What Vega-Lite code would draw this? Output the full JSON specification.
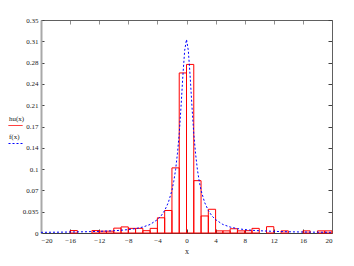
{
  "$schema": "https://vega.github.io/schema/vega-lite/v6.json",
  "width": 291,
  "height": 213,
  "autosize": "none",
  "padding": {"left": 41, "top": 20, "right": 22, "bottom": 33},
  "background": "white",
  "config": {
    "view": {"stroke": null},
    "font": "Liberation Serif",
    "axis": {"grid": false, "labelFont": "Liberation Serif", "labelFontSize": 7, "labelColor": "#202020", "titleFont": "Liberation Serif", "titleFontSize": 8, "titleFontWeight": "normal", "titleColor": "#202020", "domainColor": "#707070", "tickColor": "#404040", "tickWidth": 1},
    "legend": {"orient": "none", "legendX": -33, "legendY": 91, "title": null, "symbolType": "M-1,1H1", "symbolSize": 196, "symbolStrokeWidth": 1, "labelFont": "Liberation Serif", "labelFontSize": 7, "labelColor": "#202020", "labelOffset": -14, "rowPadding": 1, "padding": 0}
  },
  "datasets": {
    "hist": [
      {"x0": -16, "x1": -15, "h": 0.004, "series": "hu(x)"},
      {"x0": -13, "x1": -12, "h": 0.004, "series": "hu(x)"},
      {"x0": -12, "x1": -11, "h": 0.003, "series": "hu(x)"},
      {"x0": -11, "x1": -10, "h": 0.003, "series": "hu(x)"},
      {"x0": -10, "x1": -9, "h": 0.008, "series": "hu(x)"},
      {"x0": -9, "x1": -8, "h": 0.01, "series": "hu(x)"},
      {"x0": -8, "x1": -7, "h": 0.0076, "series": "hu(x)"},
      {"x0": -7, "x1": -6, "h": 0.0076, "series": "hu(x)"},
      {"x0": -6, "x1": -5, "h": 0.0038, "series": "hu(x)"},
      {"x0": -5, "x1": -4, "h": 0.0076, "series": "hu(x)"},
      {"x0": -4, "x1": -3, "h": 0.025, "series": "hu(x)"},
      {"x0": -3, "x1": -2, "h": 0.037, "series": "hu(x)"},
      {"x0": -2, "x1": -1, "h": 0.107, "series": "hu(x)"},
      {"x0": -1, "x1": 0, "h": 0.263, "series": "hu(x)"},
      {"x0": 0, "x1": 1, "h": 0.277, "series": "hu(x)"},
      {"x0": 1, "x1": 2, "h": 0.086, "series": "hu(x)"},
      {"x0": 2, "x1": 3, "h": 0.028, "series": "hu(x)"},
      {"x0": 3, "x1": 4, "h": 0.039, "series": "hu(x)"},
      {"x0": 4, "x1": 5, "h": 0.0035, "series": "hu(x)"},
      {"x0": 5, "x1": 6, "h": 0.0035, "series": "hu(x)"},
      {"x0": 6, "x1": 7, "h": 0.007, "series": "hu(x)"},
      {"x0": 7, "x1": 8, "h": 0.0035, "series": "hu(x)"},
      {"x0": 8, "x1": 9, "h": 0.0038, "series": "hu(x)"},
      {"x0": 9, "x1": 10, "h": 0.0076, "series": "hu(x)"},
      {"x0": 11, "x1": 12, "h": 0.0104, "series": "hu(x)"},
      {"x0": 13, "x1": 14, "h": 0.0035, "series": "hu(x)"},
      {"x0": 16, "x1": 17, "h": 0.0035, "series": "hu(x)"},
      {"x0": 18, "x1": 19, "h": 0.0035, "series": "hu(x)"},
      {"x0": 19, "x1": 20, "h": 0.0035, "series": "hu(x)"}
    ],
    "curve": [
      {"x": -20, "y": 0.0011, "series": "f(x)"},
      {"x": -18, "y": 0.0013, "series": "f(x)"},
      {"x": -16, "y": 0.0016, "series": "f(x)"},
      {"x": -14, "y": 0.002, "series": "f(x)"},
      {"x": -12, "y": 0.0027, "series": "f(x)"},
      {"x": -10, "y": 0.0037, "series": "f(x)"},
      {"x": -9, "y": 0.0045, "series": "f(x)"},
      {"x": -8, "y": 0.0056, "series": "f(x)"},
      {"x": -7, "y": 0.0072, "series": "f(x)"},
      {"x": -6, "y": 0.0098, "series": "f(x)"},
      {"x": -5, "y": 0.014, "series": "f(x)"},
      {"x": -4, "y": 0.022, "series": "f(x)"},
      {"x": -3.5, "y": 0.028, "series": "f(x)"},
      {"x": -3, "y": 0.037, "series": "f(x)"},
      {"x": -2.5, "y": 0.05, "series": "f(x)"},
      {"x": -2, "y": 0.07, "series": "f(x)"},
      {"x": -1.75, "y": 0.085, "series": "f(x)"},
      {"x": -1.5, "y": 0.104, "series": "f(x)"},
      {"x": -1.25, "y": 0.13, "series": "f(x)"},
      {"x": -1, "y": 0.163, "series": "f(x)"},
      {"x": -0.75, "y": 0.208, "series": "f(x)"},
      {"x": -0.5, "y": 0.258, "series": "f(x)"},
      {"x": -0.25, "y": 0.3, "series": "f(x)"},
      {"x": 0, "y": 0.318, "series": "f(x)"},
      {"x": 0.25, "y": 0.3, "series": "f(x)"},
      {"x": 0.5, "y": 0.258, "series": "f(x)"},
      {"x": 0.75, "y": 0.208, "series": "f(x)"},
      {"x": 1, "y": 0.163, "series": "f(x)"},
      {"x": 1.25, "y": 0.13, "series": "f(x)"},
      {"x": 1.5, "y": 0.104, "series": "f(x)"},
      {"x": 1.75, "y": 0.085, "series": "f(x)"},
      {"x": 2, "y": 0.07, "series": "f(x)"},
      {"x": 2.5, "y": 0.05, "series": "f(x)"},
      {"x": 3, "y": 0.037, "series": "f(x)"},
      {"x": 3.5, "y": 0.028, "series": "f(x)"},
      {"x": 4, "y": 0.022, "series": "f(x)"},
      {"x": 5, "y": 0.014, "series": "f(x)"},
      {"x": 6, "y": 0.0098, "series": "f(x)"},
      {"x": 7, "y": 0.0072, "series": "f(x)"},
      {"x": 8, "y": 0.0056, "series": "f(x)"},
      {"x": 9, "y": 0.0045, "series": "f(x)"},
      {"x": 10, "y": 0.0037, "series": "f(x)"},
      {"x": 12, "y": 0.0027, "series": "f(x)"},
      {"x": 14, "y": 0.002, "series": "f(x)"},
      {"x": 16, "y": 0.0016, "series": "f(x)"},
      {"x": 18, "y": 0.0013, "series": "f(x)"},
      {"x": 20, "y": 0.0011, "series": "f(x)"}
    ]
  },
  "layer": [
    {
      "data": {"name": "hist"},
      "mark": {"type": "rect", "fillOpacity": 0, "strokeWidth": 1},
      "encoding": {
        "x": {"field": "x0", "type": "quantitative", "scale": {"domain": [-20, 20], "nice": false, "zero": false},
          "axis": {"orient": "bottom", "values": [-20, -16, -12, -8, -4, 0, 4, 8, 12, 16, 20], "tickSize": -4, "labelPadding": 7, "title": "x", "titlePadding": 4, "domainColor": "#404040"}},
        "x2": {"field": "x1"},
        "y": {"field": "h", "type": "quantitative", "scale": {"domain": [0, 0.35], "nice": false, "zero": false},
          "axis": {"orient": "left", "values": [0, 0.035, 0.07, 0.105, 0.14, 0.175, 0.21, 0.245, 0.28, 0.315, 0.35], "labelExpr": "datum.value == 0.035 ? '0.035' : toString(floor(datum.value * 100 + 0.000001) / 100)", "tickSize": -3, "labelPadding": 6, "title": null, "domainColor": "#a8a8a8", "domainWidth": 2}},
        "y2": {"datum": 0},
        "stroke": {"field": "series", "type": "nominal", "scale": {"domain": ["hu(x)", "f(x)"], "range": ["#ff0000", "#0000ff"]},
          "legend": {"encode": {"symbols": {"update": {"stroke": {"signal": "datum.value == 'f(x)' ? '#0000ff' : '#ff0000'"}, "strokeDash": {"signal": "datum.value == 'f(x)' ? [2, 2] : [1, 0]"}, "fill": {"value": "transparent"}, "opacity": {"value": 1}, "strokeOpacity": {"value": 1}}}}}}
      }
    },
    {
      "data": {"name": "curve"},
      "mark": {"type": "line", "strokeWidth": 1, "strokeDash": [2, 2]},
      "encoding": {
        "x": {"field": "x", "type": "quantitative",
          "axis": {"orient": "top", "values": [-20, -16, -12, -8, -4, 0, 4, 8, 12, 16, 20], "tickSize": -4, "labels": false, "title": null, "domainColor": "#606060", "tickColor": "#909090"}},
        "y": {"field": "y", "type": "quantitative",
          "axis": {"orient": "right", "values": [0, 0.035, 0.07, 0.105, 0.14, 0.175, 0.21, 0.245, 0.28, 0.315, 0.35], "tickSize": -4, "labels": false, "title": null, "domainColor": "#606060"}},
        "stroke": {"field": "series", "type": "nominal",
          "legend": {"encode": {"symbols": {"update": {"stroke": {"signal": "datum.value == 'f(x)' ? '#0000ff' : '#ff0000'"}, "strokeDash": {"signal": "datum.value == 'f(x)' ? [2, 2] : [1, 0]"}, "fill": {"value": "transparent"}, "opacity": {"value": 1}, "strokeOpacity": {"value": 1}}}}}}
      }
    }
  ],
  "resolve": {"axis": {"x": "independent", "y": "independent"}}
}
